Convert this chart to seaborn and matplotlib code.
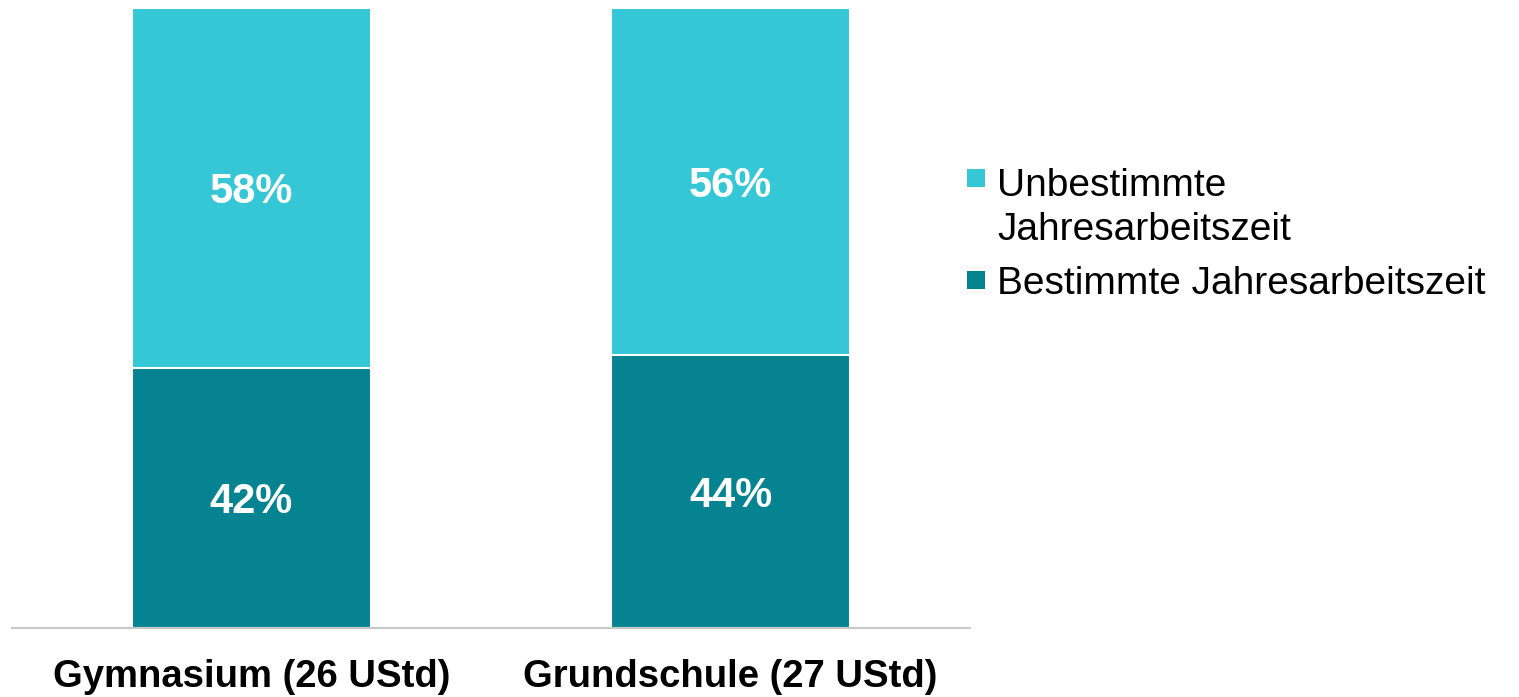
import pandas as pd
import matplotlib
matplotlib.use("Agg")
import matplotlib.pyplot as plt
import matplotlib.patches as mpatches
from matplotlib.legend_handler import HandlerBase
import seaborn as sns

# data
categories = ["Gymnasium (26 UStd)", "Grundschule (27 UStd)"]
bestimmte = [42, 44]
unbestimmte = [58, 56]
series_names = ["Unbestimmte\nJahresarbeitszeit", "Bestimmte Jahresarbeitszeit"]

light = "#35C7D6"
dark = "#058391"

df = pd.DataFrame({"category": categories, "bestimmte": bestimmte, "unbestimmte": unbestimmte})
df["total"] = df["bestimmte"] + df["unbestimmte"]

sns.set_style("white")
plt.rcParams["font.family"] = ["Liberation Sans", "DejaVu Sans"]
plt.rcParams["text.color"] = "black"
plt.rcParams["xtick.color"] = "black"


class SquareHandler(HandlerBase):
    # square legend marker, optionally moved up so it sits on the first text line
    def __init__(self, dy=0.0):
        super().__init__()
        self.dy = dy

    def create_artists(self, legend, orig_handle, xdescent, ydescent, width, height, fontsize, trans):
        size = 0.46 * fontsize
        y = (height - size) / 2 - ydescent + self.dy * fontsize
        r = mpatches.Rectangle((-xdescent, y), size, size, facecolor=orig_handle.get_facecolor(),
                               linewidth=0, transform=trans)
        return [r]


fig = plt.figure(figsize=(15.19, 6.97), dpi=100)
ax = fig.add_axes([12 / 1519, 69 / 697, 958 / 1519, 620 / 697])

# stacked bars: total in light colour, bestimmte on top in dark colour
sns.barplot(data=df, x="category", y="total", color=light, width=0.5,
            saturation=1, edgecolor="white", linewidth=1.5, ax=ax)
sns.barplot(data=df, x="category", y="bestimmte", color=dark, width=0.5,
            saturation=1, edgecolor="white", linewidth=1.5, ax=ax)

for i, row in df.iterrows():
    ax.text(i, row["bestimmte"] / 2, f"{row['bestimmte']}%", ha="center", va="center_baseline",
            color="white", fontsize=30, fontweight="bold")
    ax.text(i, row["bestimmte"] + row["unbestimmte"] / 2, f"{row['unbestimmte']}%",
            ha="center", va="center_baseline", color="white", fontsize=30, fontweight="bold")

ax.set_ylim(0, 100)
ax.set_xlim(-0.5, 1.5)
ax.set_xlabel("")
ax.set_ylabel("")
ax.set_yticks([])
ax.tick_params(axis="x", length=0, pad=22)
for lbl in ax.get_xticklabels():
    lbl.set_fontsize(27.5)
    lbl.set_fontweight("bold")
for side in ["top", "left", "right"]:
    ax.spines[side].set_visible(False)
ax.spines["bottom"].set_color("#C8C8C8")
ax.spines["bottom"].set_linewidth(1.5)

h1 = mpatches.Patch(facecolor=light)
h2 = mpatches.Patch(facecolor=dark)
leg = fig.legend([h1, h2], series_names, loc="upper left",
                 bbox_to_anchor=(967 / 1519, 1 - 168 / 697),
                 handler_map={h1: SquareHandler(dy=0.79), h2: SquareHandler()},
                 frameon=False, fontsize=28, handlelength=0.46, handletextpad=0.31,
                 labelspacing=0.45, borderaxespad=0, borderpad=0)
for t in leg.get_texts():
    t.set_linespacing(1.3)

fig.savefig("out.png", dpi=100)
